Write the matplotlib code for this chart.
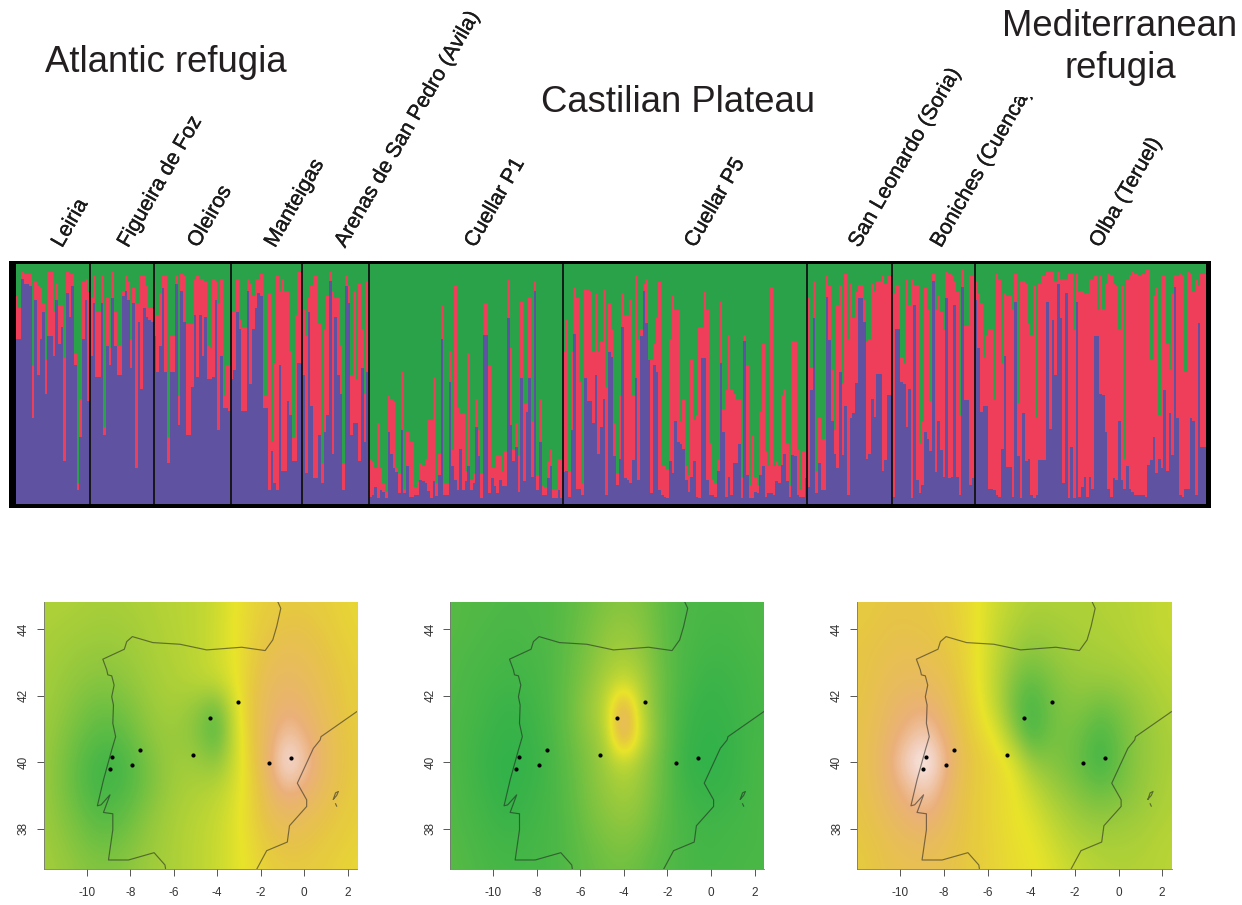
import numpy as np
import matplotlib
matplotlib.use("Agg")
import matplotlib.pyplot as plt
import matplotlib.patheffects as pe
from matplotlib.colors import LinearSegmentedColormap
from matplotlib.patches import Rectangle

plt.rcParams['font.family'] = ['Liberation Sans', 'DejaVu Sans']
plt.rcParams['axes.unicode_minus'] = False

W, H = 1242, 905
DPI = 100

# Population names
pop_names = ["Leiria", "Figueira de Foz", "Oleiros", "Manteigas", "Arenas de San Pedro (Avila)",
             "Cuellar P1", "Cuellar P5", "San Leonardo (Soria)", "Boniches (Cuenca)", "Olba (Teruel)"]

# Each individual: (purple + red share, purple share) in percent; the rest is green
leiria = [(87,69),(82,69),(97,94),(96,92),(96,92),(96,91),(58,36),(93,85),(91,54),(90,69),
          (84,80),(60,46),(97,70),(97,70),(80,62),(92,85),(83,67),(83,74),(61,18),(97,88),
          (96,78),(96,91),(63,58),(9,6),(44,28),(93,69),(94,85),(89,43)]
figueira = [(86.5,62),(95,84),(80,53),(80,53),(95,84),(32,29),(86,66),(65,58),(97,86),(80,66),
            (66,54),(66,54),(89,87),(95,89),(93,85),(69,57),(90,84),(84,15),(84,76),(95,48),
            (95,82),(91,78),(82,77),(82,76)]
oleiros = [(93,70),(79,55),(88,66),(95,90),(95,55),(28,17),(70,55),(70,55),(95,92),(45,33),
           (96,89),(95,76),(75,29),(75,29),(75,49),(94,79),(95,53),(94,79),(94,62),(93,78),
           (66,52),(65,52),(94,53),(93,85),(84,31),(94,62),(45,40),(58,40),(58,39)]
manteigas = [(80,52),(80,56),(94,80),(77,73),(74,39),(74,39),(94,89),(92,50),(87,73),(94,82),
             (94,88),(96,87),(45,40),(45,40),(88,6),(26,22),(59,9),(95,6),(89,58),(94,14),
             (89,14),(89,43),(64,37),(28,18),(79,18),(97,59),(97,59)]
arenas = [(81,54),(70,13),(86,80),(91,41),(95,11),(95,11),(75,29),(17,9),(73,30),(87,37),
          (97,93),(89,21),(86,78),(86,54),(66,46),(17,6),(95,91),(91,84),(54,29),(89,34),
          (52,34),(92,18),(73,57),(46,26),(93,55)]
cuellar_p1 = [(18.5,3),(18,4),(15,7),(34,2.5),(15,6),(9,5),(5,2.5),(45,30),(44,21),(43,15),
              (15,13.5),(13,4.5),(55,31),(6.5,4.5),(30,16),(26,3),(26,3),(7,4),(9.5,4),(17,10),
              (16,9.5),(19,9),(35,5.5),(35,2.5),(52.5,9.5),(9,3.5),(21,12),(82.5,69),(9,4),(9,4),
              (64,51),(22.5,16),(91,10),(40,6),(38,23),(38,6),(14,9.5),(63,16),(10,6),(13,9),
              (44,32),(31,20),(13,2.5),(84,70.5),(84,70.5),(58,4.5),(15,11),(15,7.5),(20.5,4.5),(20,10),
              (13.5,7.5),(22,7.5),(93.5,77.5),(65,33),(23,18),(34,24),(20.5,5),(84.5,52.5),(42,9.5),(42,38.5),
              (86,52.5),(34.5,11.5),(93,89),(12,6),(44,26),(7.5,4),(7,4),(18,11),(23,16),(6,2.5),
              (6,2.5),(19,6),(19,2.5)]
cuellar_p5 = [(63.5,13.5),(77,14),(14,3),(63.5,31),(90,71),(86,6.5),(51,6.5),(9,4),(89.5,52.5),(89.5,43),
              (89,43),(63.5,34),(87.5,54),(63.5,21),(68,32),(89.5,44),(49,4),(84,63.5),(73,61.5),(34,20),
              (13,8),(45,19),(88,74),(79,11),(79,10),(85,9),(45.5,18.5),(95,52.5),(68.5,10),(73,70),
              (92,89),(94,75.5),(60,60),(60,4.5),(67,58),(77.5,55),(92.5,6),(16,4),(16,3),(14.5,2.5),
              (69,18),(87,13),(81,34.5),(81,26),(34.5,25),(43.5,23),(16,10),(12,5),(60,11.5),(35,18),
              (37,3),(74,2.5),(74,61),(88.5,61),(81.5,10),(25.5,4),(10,4),(9,3),(18.5,14),(84.5,59),
              (39.5,30),(47.5,3),(70.5,11.5),(47.5,4),(46,17),(44,17),(44,25),(11.5,2.5),(70.5,68),(58,12),
              (8,2.5),(28.5,2.5),(11.5,5),(8,4.5),(38.5,12),(67,16),(22,3),(16,4.5),(90.5,4.5),(16,4),
              (18,9.5),(16,9),(45.5,16.5),(48,21),(25.5,9.5),(7.5,3),(68,20.5),(68,20),(22.5,4),(6,3),
              (22,3),(22,11)]
san_leonardo = [(86,7),(57,47.5),(93,77.5),(14,4.5),(36,17),(27,6),(27,6),(95,86.5),(91,68.5),(56,34.5),
                (31,21),(83,15),(91,55),(50.5,20.5),(96,41),(69,4),(92,36),(77.5,38),(88.5,50.5),(91.5,86),
                (91.5,86),(85,76),(68,19),(69,21),(92,44),(89,36.5),(93,54.5),(93,54.5),(95,14),(92,18.5),
                (95,45.5),(95,45.5)]
boniches = [(88,3),(91.5,73),(91.5,73),(61.5,51),(59,50),(93.5,32),(83,48),(93.5,2.5),(91.5,83),(91.5,10),
            (25.5,4.5),(34.5,8),(90,30),(81.5,27),(43,22),(96,93),(81,13.5),(87,34.5),(80,22.5),(72.5,11.5),
            (97,86),(96,11),(95.5,11.5),(93,83),(88.5,11.5),(37,4),(97.5,90.5),(74.5,43.5),(74.5,43.5),(95,8),
            (95,11)]
olba = [(93,85),(88,65),(84,38.5),(61.5,41),(70.5,41),(73,6.5),(73,6.5),(43.5,6),(96,4),(94,3),
        (59,23),(88,62),(87,15.5),(87,15.5),(81.5,3),(96,84.5),(42,20),(93,2.5),(93,38),(92,18),
        (75,19),(70.5,4),(91,2.5),(36.5,4),(92,18.5),(95,18.5),(95,18.5),(97,84.5),(97,31.5),(97,77),
        (93,54),(97,92),(94,77.5),(94,9),(94,88),(96,2.5),(96,24),(72.5,2.5),(96,84.5),(89,3),
        (89,7),(88,11.5),(88,3),(94,11.5),(94,6.5),(95,70),(81,70),(95,46),(81.5,45.5),(92,30),
        (96,6.5),(95.5,3),(92,11),(91,10),(73,34.5),(91,10),(19,6.5),(93.5,16),(95.5,6.5),(97,5),
        (96,4),(95.5,4),(95,4),(96,4),(97.5,3),(97.5,16.5),(60,18.5),(87,28),(90,13),(37,19),
        (95,15),(95,47.5),(67,14),(56,38),(88,20.5),(95.5,90.5),(95,36),(96,4),(95.5,3),(55,6.5),
        (97,6.5),(96,36),(88.5,34.5),(93.5,4),(91,75.5),(96,24),(96,24)]
populations = [leiria, figueira, oleiros, manteigas, arenas, cuellar_p1, cuellar_p5,
               san_leonardo, boniches, olba]

# Map grids (0 green .. 50 yellow .. 100 white), rows from north to south
grid_lons = [-12,-11.2,-10.4,-9.6,-8.8,-8,-7.2,-6.4,-5.6,-4.8,-4,-3.2,-2.4,-1.6,-0.8,0,0.8,1.6,2.4]
grid_lats = [44.8,44.0,43.2,42.4,41.6,40.8,40.0,39.2,38.4,37.6,36.8]
map_one = [
 [33,33,32,31,31,32,33,35,36,38,42,50,56,59,60,60,59,57,55],
 [32,31,30,29,29,30,32,34,36,38,43,50,57,62,64,64,61,58,56],
 [31,29,27,26,26,28,31,33,35,38,43,50,59,66,68,67,64,60,57],
 [30,27,24,22,22,25,29,32,34,37,40,49,61,70,72,70,66,62,58],
 [29,25,20,16,16,20,26,30,29,22,13,45,63,72,77,74,68,63,59],
 [28,22,16,11,10,15,23,27,26,20,8,42,62,74,86,79,71,64,60],
 [27,20,12,6,5,9,18,26,29,27,23,42,60,77,97,86,72,65,60],
 [27,20,12,6,6,10,18,26,31,33,36,45,57,72,82,77,70,64,59],
 [28,22,16,10,10,15,23,29,33,36,40,47,57,67,71,69,65,61,58],
 [29,25,20,16,16,20,26,30,34,37,41,47,55,62,65,64,61,59,57],
 [30,27,24,21,21,24,28,31,34,37,41,47,53,58,60,60,59,57,55]]
map_two = [
 [10,9,9,8,8,8,9,12,16,20,22,20,14,9,7,7,7,7,8],
 [10,9,8,7,7,8,9,13,18,24,26,23,15,9,7,6,6,7,8],
 [9,8,7,6,6,7,9,14,20,27,31,26,16,9,6,5,5,6,7],
 [9,7,6,5,5,6,9,15,23,33,42,33,18,9,5,3,4,5,7],
 [8,7,5,3,3,5,9,16,27,38,82,36,18,8,3,2,3,5,6],
 [8,6,4,2,2,4,8,15,24,33,85,42,20,7,2,1,2,5,6],
 [8,6,3,1,1,3,7,13,21,29,40,29,17,6,1,1,2,5,7],
 [9,6,4,1,2,4,7,12,20,26,31,26,16,7,3,2,3,5,7],
 [9,7,5,3,3,5,7,11,18,23,26,23,14,8,5,4,5,6,7],
 [10,8,6,5,5,6,7,10,15,19,21,18,12,8,6,5,6,6,7],
 [10,9,7,6,6,6,7,10,13,16,17,14,10,8,6,6,6,7,7]]
map_three = [
 [60,61,62,62,62,60,56,50,42,37,33,33,33,33,34,35,36,38,40],
 [61,62,64,64,63,61,57,50,40,33,28,29,31,32,33,34,36,38,40],
 [62,64,66,67,66,63,58,50,38,27,22,25,28,30,31,32,34,36,38],
 [62,65,69,70,70,67,60,50,36,20,12,18,24,26,26,27,30,33,36],
 [63,67,72,76,78,71,62,53,38,16,5,15,21,20,15,19,25,30,34],
 [64,68,75,82,88,77,65,56,49,26,6,16,19,14,7,15,23,28,32],
 [64,69,78,92,100,83,67,60,55,47,26,22,18,12,4,14,23,28,32],
 [63,68,75,82,89,77,65,59,55,51,40,30,24,18,14,18,24,29,33],
 [62,66,71,76,79,72,64,59,55,51,47,38,31,26,24,26,28,31,34],
 [61,63,67,69,71,67,63,59,56,52,50,44,37,33,31,31,32,34,36],
 [60,62,65,66,66,65,62,59,56,53,51,48,42,38,35,34,34,35,36]]
maps = [map_one, map_two, map_three]

# Sampling sites and coastlines (lon, lat)
site_lons = [-8.82,-8.94,-7.91,-7.53,-5.12,-4.31,-3.05,-1.63,-0.6]
site_lats = [40.16,39.8,39.92,40.38,40.22,41.34,41.82,39.97,40.13]
atlantic_lons = [-1.21,-1.07,-1.26,-1.44,-1.79,-2.87,-4.48,-5.71,-6.96,-7.90,-8.16,-8.27,-9.26,-9.08,-9.03,-8.85,-8.74,-8.85,-8.77,-8.80,-8.67,-8.85,-9.23,-9.51,-9.34,-8.93,-9.23,-8.80,-8.80,-9.00,-8.08,-6.90,-6.40,-6.37]
atlantic_lats = [44.83,44.63,44.08,43.68,43.36,43.46,43.38,43.55,43.60,43.78,43.63,43.40,43.10,42.78,42.63,42.60,42.32,41.97,41.72,41.17,40.77,40.37,39.47,38.69,38.72,39.02,38.49,38.45,37.97,37.06,37.06,37.28,36.91,36.78]
med_lons = [-2.18,-1.72,-0.77,-0.67,0.12,0.12,-0.31,0.43,0.74,0.78,2.42]
med_lats = [36.78,37.34,37.60,38.09,38.67,38.87,39.37,40.42,40.67,40.77,41.52]
island_lons = [1.35,1.45,1.58,1.50,1.35]
island_lats = [38.89,39.08,39.12,39.00,38.89]
islet_lons = [1.45,1.50]
islet_lats = [38.75,38.68]
x_ticks = [-10,-8,-6,-4,-2,0,2]
y_ticks = [38,40,42,44]

GREEN, RED, PURPLE = '#2aa24a', '#ef3e5a', '#5f52a0'
TEXT = '#231f20'
cmap = LinearSegmentedColormap.from_list('surface', [
    (0.0, '#2fb14a'), (0.25, '#93c83e'), (0.5, '#e9e42a'), (0.62, '#e6c643'),
    (0.78, '#ebb07a'), (0.9, '#f3d3c5'), (1.0, '#ffffff')])


def px_axes(fig, left, top, right, bottom, **kw):
    return fig.add_axes([left / W, 1 - bottom / H, (right - left) / W, (bottom - top) / H], **kw)


fig = plt.figure(figsize=(W / DPI, H / DPI), dpi=DPI, facecolor='white')

# Black frame behind the structure plot
frame = px_axes(fig, 9, 261, 1210.5, 508.3, facecolor='black')
frame.set_xticks([]); frame.set_yticks([])
for s in frame.spines.values():
    s.set_visible(False)

ax = px_axes(fig, 15.6, 264.3, 1205.7, 504.3)
start = 0
edges = []
for pop in populations:
    arr = np.array(pop, dtype=float)
    xs = start + np.arange(len(arr)) + 0.5
    total, blue = arr[:, 0], arr[:, 1]
    ax.bar(xs, np.full(len(arr), 100.0), width=1.0, color=GREEN, linewidth=0, antialiased=False)
    ax.bar(xs, total, width=1.0, color=RED, linewidth=0, antialiased=False)
    ax.bar(xs, blue, width=1.0, color=PURPLE, linewidth=0, antialiased=False)
    start += len(arr)
    edges.append(start)
ax.set_xlim(0, start)
ax.set_ylim(0, 100)
ax.axis('off')
for e in edges[:-1]:
    ax.axvline(e, color='#111111', lw=1.3)

# Headings
head = dict(fontsize=26.3, color=TEXT, transform=fig.transFigure)
fig.text(45 / W, 1 - 72 / H, "Atlantic refugia", ha='left', va='baseline', **head)
fig.text(541 / W, 1 - 112 / H, "Castilian Plateau", ha='left', va='baseline', **head)
fig.text(1120 / W, 1 - 36 / H, "Mediterranean", ha='center', va='baseline', **head)
fig.text(1120 / W, 1 - 78 / H, "refugia", ha='center', va='baseline', **head)

# Rotated population labels
label_x = [62, 128, 198, 275, 345, 475, 695, 859, 941, 1100]
for name, lx in zip(pop_names, label_x):
    t = fig.text(lx / W, 1 - 248.5 / H, name, rotation=60, rotation_mode='anchor',
                 ha='left', va='baseline', fontsize=15.3, color='#1a1a1a',
                 path_effects=[pe.withStroke(linewidth=0.25, foreground='#1a1a1a')])
    if name.startswith('Boniches'):
        clip = Rectangle((900 / W, 0), 200 / W, 1 - 97 / H, transform=fig.transFigure)
        t.set_clip_path(clip)

# Maps
lon_step = grid_lons[1] - grid_lons[0]
lat_step = grid_lats[0] - grid_lats[1]
extent = (grid_lons[0] - lon_step / 2, grid_lons[-1] + lon_step / 2,
          grid_lats[-1] - lat_step / 2, grid_lats[0] + lat_step / 2)
map_x = [(43.7, 357.3), (450.3, 764.3), (857, 1172)]
for grid, (left, right) in zip(maps, map_x):
    m = px_axes(fig, left, 601.7, right, 869.3)
    m.imshow(np.array(grid, dtype=float), cmap=cmap, vmin=0, vmax=100, extent=extent,
             origin='upper', aspect='auto', interpolation='bicubic', interpolation_stage='data')
    line = dict(color='#1e1e1e', alpha=0.55, lw=0.85)
    m.plot(atlantic_lons, atlantic_lats, **line)
    m.plot(med_lons, med_lats, **line)
    m.plot(island_lons, island_lats, **line)
    m.plot(islet_lons, islet_lats, **line)
    m.plot(site_lons, site_lats, 'o', color='black', ms=3.0, mew=0, zorder=5)
    m.set_xlim(-11.98, 2.45)
    m.set_ylim(36.78, 44.83)
    m.set_xticks(x_ticks)
    m.set_yticks(y_ticks)
    m.tick_params(axis='both', length=5, width=0.7, color='#555555', labelsize=8.5, labelcolor='#333333')
    m.tick_params(axis='x', pad=8)
    m.tick_params(axis='y', pad=5)
    for lab in m.get_yticklabels():
        lab.set_rotation(90)
        lab.set_va('center')
    for side in ('top', 'right'):
        m.spines[side].set_visible(False)
    m.spines['left'].set_color('#777777')
    m.spines['bottom'].set_color('#777777')
    m.spines['left'].set_linewidth(0.6)
    m.spines['bottom'].set_linewidth(0.6)

fig.savefig('out.png', dpi=DPI, facecolor='white')
